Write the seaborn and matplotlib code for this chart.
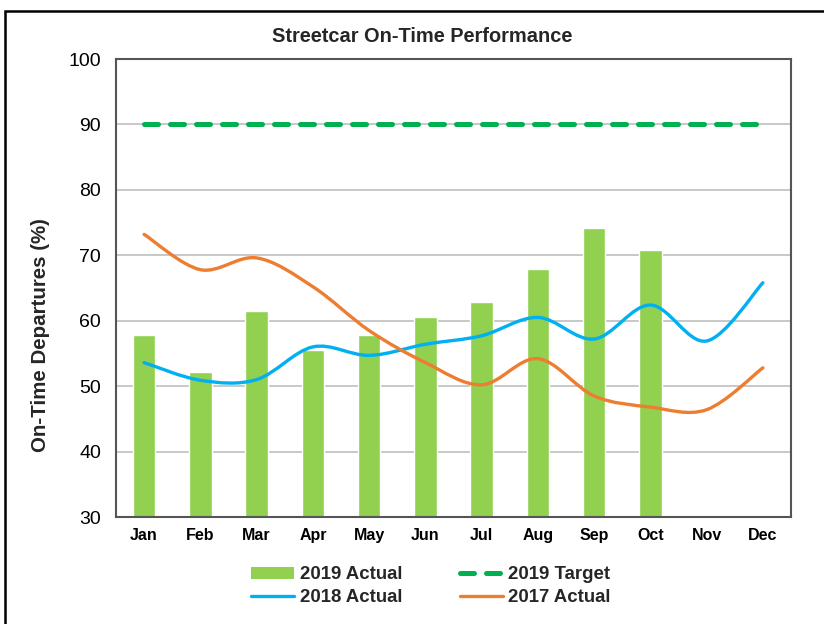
import numpy as np
import pandas as pd
import matplotlib
matplotlib.use("Agg")
import matplotlib.pyplot as plt
from matplotlib.path import Path
from matplotlib.patches import PathPatch, Rectangle
from matplotlib.lines import Line2D
import seaborn as sns

months = ["Jan", "Feb", "Mar", "Apr", "May", "Jun", "Jul", "Aug", "Sep", "Oct", "Nov", "Dec"]
actual_2019 = [57.8, 52.1, 61.5, 55.5, 57.8, 60.5, 62.9, 67.9, 74.1, 70.8, np.nan, np.nan]
target_2019 = [90] * 12
actual_2018 = [53.6, 50.9, 51.0, 56.0, 54.7, 56.4, 57.7, 60.5, 57.2, 62.4, 56.9, 65.8]
actual_2017 = [73.2, 67.8, 69.6, 65.2, 58.5, 53.6, 50.2, 54.2, 48.5, 46.8, 46.4, 52.8]
yticks = [30, 40, 50, 60, 70, 80, 90, 100]

C_BAR = "#92D050"
C_TGT = "#00B050"
C_BLUE = "#00B0F0"
C_ORANGE = "#ED7D31"

sns.set_theme(style="white")
plt.rcParams["font.family"] = ["Liberation Sans", "DejaVu Sans"]

fig = plt.figure(figsize=(8.24, 6.24), dpi=100)
ax = fig.add_axes([116 / 824, 1 - 517 / 624, (791 - 116) / 824, (517 - 59) / 624])

df = pd.DataFrame({"month": months, "value": actual_2019})
sns.barplot(data=df, x="month", y="value", color=C_BAR, width=0.4,
            saturation=1, ax=ax, zorder=2)

dft = pd.DataFrame({"x": np.arange(12), "value": target_2019})
sns.lineplot(data=dft, x="x", y="value", color=C_TGT, lw=3.6, ax=ax,
             dashes=False, zorder=3)
tline = ax.lines[-1]
tline.set_dashes((2.8, 2.4))
tline.set_dash_capstyle("round")


def smooth_path(xs, ys):
    pts = np.column_stack([xs, ys])
    verts = [tuple(pts[0])]
    codes = [Path.MOVETO]
    n = len(pts)
    for i in range(n - 1):
        p0 = pts[i - 1] if i > 0 else pts[i]
        p1 = pts[i]
        p2 = pts[i + 1]
        p3 = pts[i + 2] if i + 2 < n else pts[i + 1]
        c1 = p1 + (p2 - p0) / 6.0
        c2 = p2 - (p3 - p1) / 6.0
        verts += [tuple(c1), tuple(c2), tuple(p2)]
        codes += [Path.CURVE4] * 3
    return Path(verts, codes)


for vals, col in [(actual_2018, C_BLUE), (actual_2017, C_ORANGE)]:
    patch = PathPatch(smooth_path(np.arange(12), np.array(vals)), facecolor="none",
                      edgecolor=col, lw=2.4, capstyle="round", zorder=4)
    ax.add_patch(patch)

ax.set_ylim(30, 100)
ax.set_xlim(-0.5, 11.5)
ax.set_yticks(yticks)
ax.set_yticklabels([str(v) for v in yticks], fontsize=14, color="#000000")
ax.set_xticks(range(12))
ax.set_xticklabels(months, fontsize=11.5, fontweight="bold", color="#000000")
ax.tick_params(axis="y", length=0, pad=10.8)
ax.tick_params(axis="x", length=0, pad=8)
ax.set_xlabel("")
ax.set_ylabel("")
ax.yaxis.grid(True, color="#C8C8C8", lw=1.4, zorder=0)
ax.set_axisbelow(True)
for s in ax.spines.values():
    s.set_visible(True)
    s.set_color("#555555")
    s.set_linewidth(1.5)

fig.text(41 / 824, 1 - 335 / 624, "On-Time Departures (%)", rotation=90,
         ha="center", va="center", fontsize=14.8, fontweight="bold")
fig.text(422 / 824, 1 - 37 / 624, "Streetcar On-Time Performance",
         ha="center", va="center", fontsize=14.4, fontweight="bold")

handles = [
    Rectangle((0, 0), 1, 1, facecolor=C_BAR, edgecolor="none"),
    Line2D([], [], color=C_BLUE, lw=2.4),
    Line2D([], [], color=C_TGT, lw=3.6, dashes=(2.8, 2.4), dash_capstyle="round"),
    Line2D([], [], color=C_ORANGE, lw=2.4),
]
labels = ["2019 Actual", "2018 Actual", "2019 Target", "2017 Actual"]
fig.legend(handles, labels, ncol=2, loc="center", bbox_to_anchor=(431 / 824, 1 - 586 / 624),
           frameon=False, prop={"weight": "bold", "size": 13.4}, handlelength=2.3,
           handleheight=0.6, columnspacing=3.1, handletextpad=0.3, labelspacing=0.3)

fig.add_artist(Rectangle((5 / 824, -0.05), 1.2, 1 - 11 / 624 + 0.05, transform=fig.transFigure,
                         facecolor="none", edgecolor="black", lw=1.8))

fig.savefig("out.png", dpi=100)
